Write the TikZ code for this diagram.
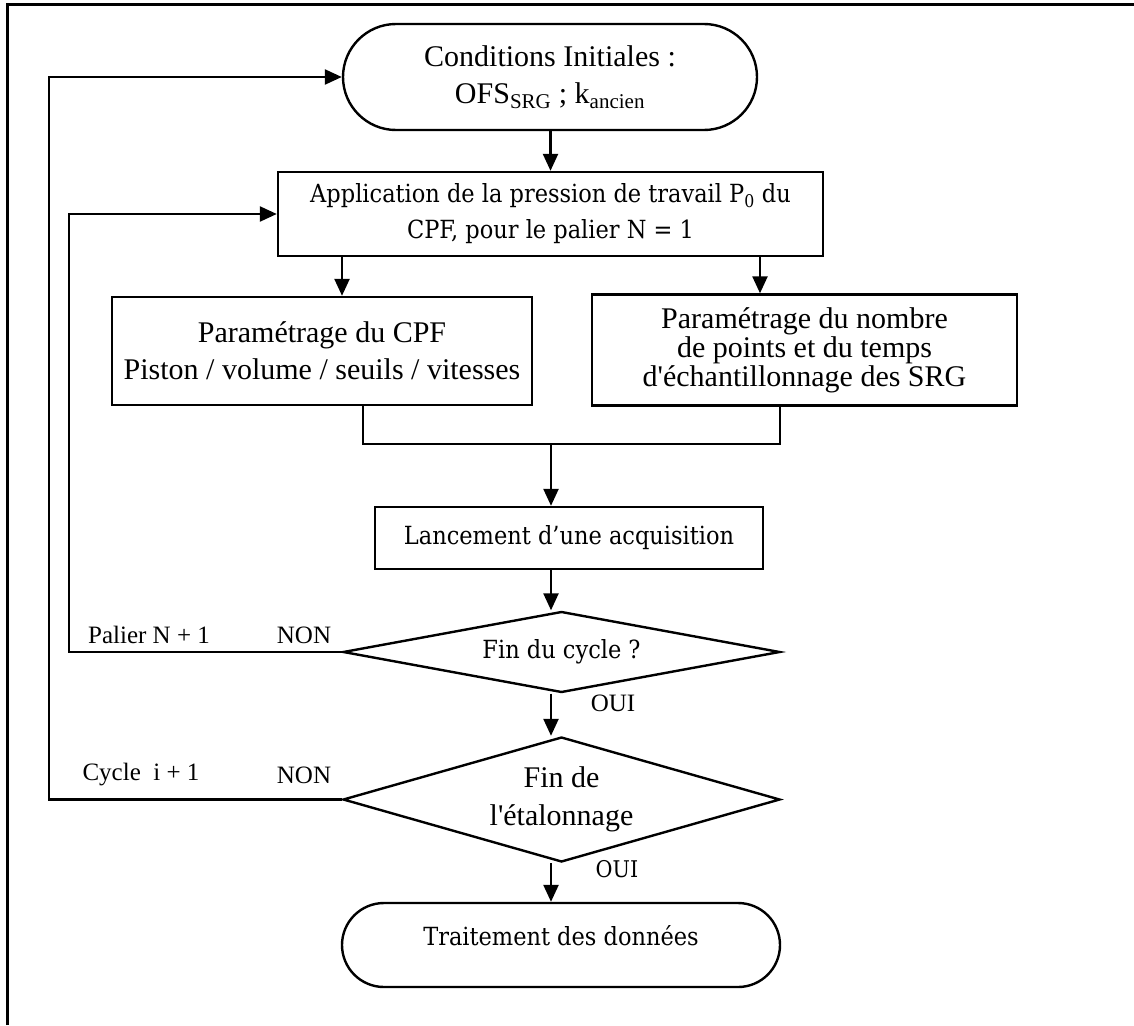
\documentclass[tikz,border=0pt]{standalone}
\usepackage{fontspec}
\newfontfamily\tms{Liberation Serif}
\newfontfamily\cmb{DejaVu Serif Condensed}
\usetikzlibrary{shapes.geometric,shapes.misc,arrows.meta,calc}
\begin{document}
\begin{tikzpicture}[x=1pt,y=-1pt,
  line/.style={line width=2.4pt},
  arr/.style={line, -{Triangle[length=17pt,width=15pt]}},
  box/.style={draw, line width=2.4pt, rectangle, inner sep=0pt, align=center},
  term/.style={draw, line width=2.4pt, rounded rectangle, inner sep=0pt, align=center},
  dec/.style={draw, line width=2.4pt, diamond, inner sep=0pt, align=center},
  lbl/.style={font=\tms\fontsize{25}{28}\selectfont, inner sep=0pt},
]
\useasboundingbox (0,0) rectangle (1134,1025);
\draw[line width=3pt] (7,1025) -- (7,5) -- (1134,5);

\node[term, font=\tms\fontsize{30}{37}\selectfont, minimum width=414pt, minimum height=106pt] (start) at (550,77)
  {Conditions Initiales :\\OFS\textsubscript{SRG} ; k\textsubscript{ancien}};
\node[box, font=\cmb\fontsize{25}{36}\selectfont, minimum width=545pt, minimum height=84pt] (app) at (550.5,214)
  {Application de la pression de travail P\textsubscript{0} du\\CPF, pour le palier N = 1};
\node[box, font=\tms\fontsize{30}{37}\selectfont, minimum width=420pt, minimum height=108pt] (pcpf) at (322,351)
  {Paramétrage du CPF\\Piston / volume / seuils / vitesses};
\node[box, font=\tms\fontsize{30}{29}\selectfont, minimum width=425pt, minimum height=111pt] (psrg) at (804.5,350)
  {Paramétrage du nombre\\de points et du temps\\d'échantillonnage des SRG};
\node[box, font=\cmb\fontsize{25}{32}\selectfont, minimum width=388pt, minimum height=62pt] (acq) at (569,538)
  {Lancement d’une acquisition};
\node[dec, font=\cmb\fontsize{25}{32}\selectfont, minimum width=437pt, minimum height=81pt, aspect=5.4] (d1) at (561.5,652)
  {Fin du cycle ?};
\node[dec, font=\tms\fontsize{30}{38}\selectfont, minimum width=437pt, minimum height=125pt, aspect=3.5] (d2) at (561.5,799.5)
  {Fin de\\l'étalonnage};
\node[term, font=\cmb\fontsize{25}{32}\selectfont, minimum width=438pt, minimum height=84pt] (fin) at (561,945)
  {\raisebox{9pt}[\height][\depth]{Traitement des données}};

\coordinate (m) at (551,444);
\draw[arr] (start.south -| app.north) -- (app.north);
\draw[arr] ([xshift=20pt]pcpf.north |- app.south) -- ([xshift=20pt]pcpf.north);
\draw[arr] ([xshift=-44.5pt]psrg.north |- app.south) -- ([xshift=-44.5pt]psrg.north);
\draw[line] ([xshift=41pt]pcpf.south) -- ([xshift=41pt]pcpf.south |- m) -| ([xshift=-24.5pt]psrg.south);
\draw[arr] (m) -- (acq.north -| m);
\draw[arr] (acq.south -| m) -- (d1.north -| m);
\draw[arr] (d1.south -| m) -- (d2.north -| m);
\draw[arr] (d2.south -| m) -- (fin.north -| m);
\coordinate (l1) at (69,652);
\coordinate (l2) at (49,799.5);
\draw[arr] (d1.west) -- (l1) |- (app.west);
\draw[arr] (d2.west) -- (l2) |- (start.west);

\node[lbl] (pal) at (149,635) {Palier N + 1};
\node[lbl] (non1) at (304,635) {NON};
\node[lbl] (cyc) at (141,775) {Cycle\ \ i + 1};
\node[lbl] (non2) at (304,775) {NON};
\node[lbl] (oui1) at (613,703) {OUI};
\node[font=\cmb\fontsize{23}{28}\selectfont, inner sep=0pt] (oui2) at (617,869) {OUI};
\end{tikzpicture}
\end{document}
